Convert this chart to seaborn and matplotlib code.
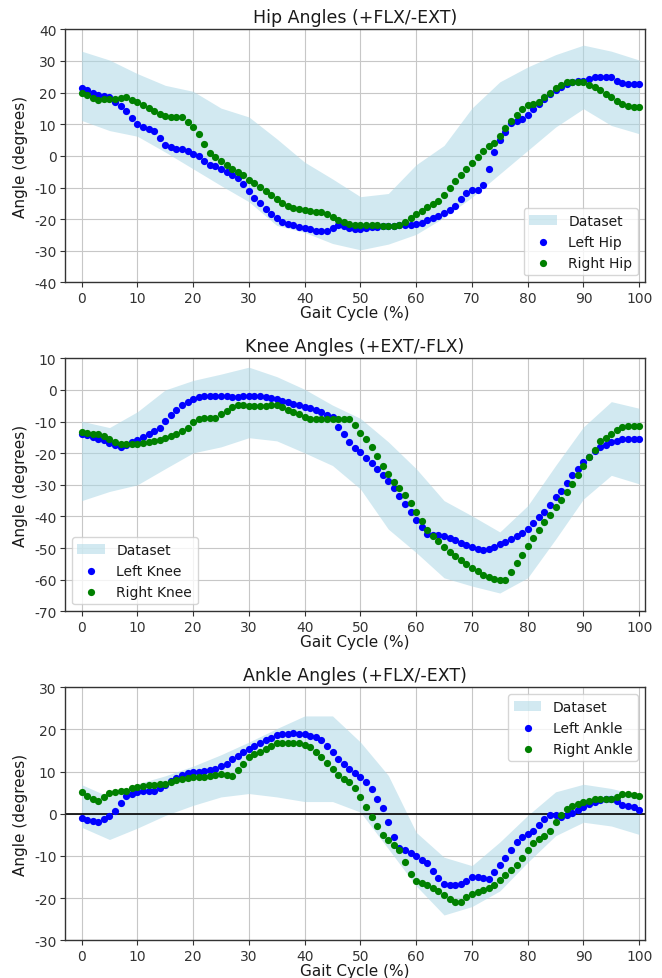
import numpy as np
import pandas as pd
import matplotlib
matplotlib.use("Agg")
import matplotlib.pyplot as plt
import seaborn as sns

# gait cycle positions
cycle = list(range(0, 101))
band_x = list(range(0, 101, 5))

# ---- Hip (+FLX/-EXT)
hip_left = [21.6, 20.8, 20.0, 19.3, 18.9, 18.7, 17.0, 15.7, 14.1, 12.1,
            10.2, 9.1, 8.6, 7.8, 5.7, 3.5, 2.8, 2.3, 2.1, 1.4,
            0.6, -0.1, -1.5, -2.8, -3.3, -4.2, -5.1, -6.0, -7.0, -8.9,
            -11.1, -13.2, -15.0, -16.9, -18.4, -19.8, -21.0, -21.4, -21.9, -22.4,
            -22.9, -23.2, -23.6, -23.8, -23.8, -22.8, -21.9, -22.1, -22.8, -23.0,
            -23.0, -22.8, -22.6, -22.4, -22.3, -22.2, -22.1, -22.0, -21.9, -21.8,
            -21.5, -21.1, -20.4, -19.8, -18.9, -18.2, -17.1, -15.8, -13.6, -11.7,
            -10.9, -10.9, -9.1, -4.1, 1.2, 4.9, 7.5, 10.3, 11.0, 11.7,
            12.8, 14.7, 16.5, 18.1, 19.7, 20.8, 21.7, 22.8, 23.4, 23.6,
            23.8, 24.4, 24.9, 24.9, 24.9, 24.9, 23.8, 22.9, 22.6, 22.6, 22.6]
hip_right = [20.0, 19.3, 18.3, 17.7, 17.9, 17.9, 18.1, 18.4, 18.5, 17.8,
             17.0, 16.0, 15.0, 14.3, 13.2, 12.6, 12.4, 12.4, 12.2, 10.8,
             9.2, 7.0, 3.9, 1.0, -0.4, -1.7, -2.8, -4.0, -5.2, -6.2,
             -7.5, -8.7, -9.8, -11.0, -12.4, -13.7, -14.8, -15.8, -16.6, -16.9,
             -17.1, -17.4, -17.6, -17.9, -18.3, -19.3, -20.3, -21.0, -21.4, -21.8,
             -21.8, -21.8, -21.8, -21.9, -22.1, -22.2, -22.2, -21.9, -20.8, -19.5,
             -18.4, -17.4, -16.1, -15.2, -14.3, -12.3, -10.3, -8.0, -5.9, -4.1,
             -2.2, -0.2, 1.4, 3.0, 4.1, 6.2, 8.8, 11.0, 12.8, 14.7,
             16.0, 16.4, 17.0, 18.5, 20.0, 21.4, 22.3, 23.4, 23.4, 23.4,
             23.2, 22.5, 21.7, 20.7, 19.6, 18.5, 17.4, 16.3, 15.7, 15.6, 15.3]
hip_band_hi = [33.1, 30.3, 26.0, 22.3, 20.4, 15.1, 12.3, 5.4, -2.0, -7.3, -12.9,
               -11.9, -2.8, 3.3, 15.1, 23.4, 28.1, 32.0, 35.0, 33.1, 30.3]
hip_band_lo = [11.2, 8.0, 6.2, 1.2, -4.1, -9.4, -14.5, -22.0, -24.2, -27.7, -29.7,
               -27.9, -24.8, -19.5, -13.1, -5.7, 1.7, 9.1, 14.9, 9.6, 7.0]

# ---- Knee (+EXT/-FLX)
knee_left = [-13.8, -14.3, -14.8, -15.4, -15.9, -16.8, -17.3, -18.0, -17.3, -16.4,
             -15.7, -14.8, -13.8, -13.0, -12.0, -9.9, -8.0, -6.2, -4.8, -3.9,
             -2.9, -2.3, -2.0, -1.9, -1.8, -1.9, -2.0, -2.1, -2.1, -2.0,
             -1.9, -1.8, -1.9, -2.2, -2.7, -3.0, -3.5, -3.9, -4.3, -4.8,
             -5.3, -5.8, -6.4, -7.1, -8.0, -8.7, -11.6, -14.0, -16.4, -18.3,
             -19.6, -21.4, -23.1, -24.9, -26.8, -28.8, -31.1, -33.4, -36.1, -38.5,
             -41.0, -43.3, -45.4, -45.9, -45.9, -46.1, -46.7, -47.4, -48.3, -49.1,
             -49.8, -50.2, -50.6, -50.4, -49.5, -48.8, -48.0, -47.0, -46.1, -45.3,
             -44.0, -42.2, -40.3, -38.5, -36.3, -33.9, -31.8, -29.4, -27.0, -24.9,
             -22.8, -21.1, -19.4, -18.0, -17.3, -16.6, -16.0, -15.6, -15.4, -15.4, -15.4]
knee_right = [-13.3, -13.6, -13.8, -14.0, -14.5, -15.4, -16.4, -17.1, -17.1, -17.1,
              -17.2, -16.9, -16.4, -16.1, -15.8, -15.2, -14.5, -13.8, -13.0, -12.0,
              -10.1, -9.2, -9.0, -9.0, -8.9, -7.7, -6.6, -5.5, -4.8, -4.8,
              -5.0, -5.1, -5.1, -5.0, -4.8, -4.8, -5.4, -6.3, -6.9, -7.7,
              -8.6, -9.3, -9.3, -9.2, -9.2, -9.1, -9.1, -9.1, -9.3, -11.1,
              -13.5, -15.6, -18.0, -21.0, -24.1, -26.7, -29.0, -31.1, -33.2, -35.7,
              -38.7, -41.4, -44.3, -46.1, -47.8, -49.8, -51.2, -52.5, -53.8, -54.9,
              -56.2, -57.4, -58.6, -59.2, -59.7, -60.1, -60.1, -57.6, -54.8, -52.2,
              -49.3, -46.7, -44.2, -41.6, -39.4, -37.1, -34.7, -32.3, -29.7, -26.8,
              -24.1, -21.3, -18.9, -16.2, -15.1, -14.0, -12.7, -11.8, -11.5, -11.3, -11.3]
knee_band_hi = [-9.9, -11.9, -6.9, 0.0, 3.0, 5.0, 7.2, 4.2, 0.2, -4.8, -9.0,
                -16.4, -24.9, -35.0, -39.8, -44.9, -36.6, -23.9, -11.7, -3.7, -5.8]
knee_band_lo = [-35.0, -32.1, -30.0, -24.9, -19.9, -18.0, -15.1, -16.1, -19.9, -23.9, -31.3,
                -44.0, -51.4, -59.4, -62.0, -64.2, -59.4, -47.2, -34.5, -27.0, -29.7]

# ---- Ankle (+FLX/-EXT)
ankle_left = [-1.0, -1.4, -1.8, -2.0, -1.3, -0.6, 0.6, 2.5, 4.2, 4.8,
              5.2, 5.5, 5.5, 5.5, 6.0, 6.9, 7.8, 8.5, 9.1, 9.6,
              9.9, 9.9, 10.2, 10.5, 10.7, 11.3, 11.9, 12.9, 13.7, 14.6,
              15.3, 16.1, 16.7, 17.5, 18.0, 18.7, 19.0, 19.0, 19.1, 19.0,
              18.9, 18.5, 18.1, 17.5, 16.0, 14.7, 13.1, 11.7, 10.7, 9.7,
              8.7, 7.5, 5.8, 3.6, 1.3, -2.0, -5.4, -8.1, -8.7, -9.4,
              -10.1, -11.0, -11.7, -13.5, -15.2, -16.7, -16.8, -16.8, -16.7, -15.9,
              -15.1, -14.9, -15.3, -15.5, -13.7, -12.1, -10.5, -8.6, -6.7, -5.6,
              -4.8, -4.0, -2.6, -1.3, -0.4, -0.4, -0.8, -0.4, 0.2, 0.9,
              1.6, 2.4, 2.9, 3.3, 3.6, 3.6, 3.0, 2.1, 1.8, 1.6, 1.0]
ankle_right = [5.2, 4.2, 3.4, 3.0, 4.0, 4.9, 5.2, 5.3, 5.5, 6.0,
               6.3, 6.7, 6.9, 6.9, 7.0, 7.1, 7.5, 7.9, 8.2, 8.5,
               8.7, 8.7, 8.8, 9.0, 9.3, 9.4, 9.3, 9.0, 10.3, 11.9,
               13.4, 14.1, 14.7, 15.3, 16.0, 16.7, 16.9, 16.9, 16.9, 16.7,
               16.4, 15.8, 14.7, 13.5, 12.1, 10.7, 9.3, 8.3, 7.5, 6.1,
               4.0, 1.6, -0.8, -2.8, -5.0, -6.2, -7.3, -8.7, -11.5, -14.3,
               -15.9, -16.4, -16.9, -17.6, -18.4, -19.2, -20.1, -20.8, -20.8, -19.8,
               -19.0, -18.5, -18.0, -17.7, -16.8, -15.7, -14.5, -13.3, -12.1, -10.6,
               -8.7, -7.0, -6.0, -5.2, -4.1, -2.0, -0.2, 1.2, 1.8, 2.4,
               2.8, 3.0, 3.6, 3.4, 3.6, 3.6, 4.0, 4.6, 4.6, 4.5, 4.2]
ankle_band_hi = [6.9, 4.0, 7.1, 9.0, 11.3, 14.0, 17.0, 20.2, 23.2, 23.2, 17.0,
                 9.1, -4.4, -10.3, -12.3, -6.7, -0.4, 5.2, 7.0, 6.0, 4.4]
ankle_band_lo = [-3.2, -6.1, -3.4, -0.4, 2.0, 4.0, 4.8, 4.0, 2.9, 2.9, 0.4,
                 -8.3, -17.1, -24.0, -22.0, -18.3, -11.5, -5.2, -2.0, -2.9, -4.9]

sns.set_style("ticks", {"axes.grid": True, "grid.color": "0.78",
                        "axes.edgecolor": "0.2", "xtick.color": "0.2",
                        "ytick.color": "0.2", "text.color": "0.1",
                        "axes.labelcolor": "0.1"})
plt.rcParams["font.family"] = ["DejaVu Sans"]
plt.rcParams["axes.unicode_minus"] = False

panels = [
    ("Hip Angles (+FLX/-EXT)", "Hip", hip_left, hip_right, hip_band_lo, hip_band_hi,
     (-40, 40), "lower right"),
    ("Knee Angles (+EXT/-FLX)", "Knee", knee_left, knee_right, knee_band_lo, knee_band_hi,
     (-70, 10), "lower left"),
    ("Ankle Angles (+FLX/-EXT)", "Ankle", ankle_left, ankle_right, ankle_band_lo, ankle_band_hi,
     (-30, 30), "upper right"),
]

fig, axes = plt.subplots(3, 1, figsize=(6.62, 9.79), dpi=100)
fig.subplots_adjust(left=0.098, right=0.974, top=0.969, bottom=0.0385, hspace=0.30)

for ax, (title, joint, left, right, lo, hi, ylim, loc) in zip(axes, panels):
    df = pd.DataFrame({"cycle": cycle, "left": left, "right": right})
    ax.fill_between(band_x, lo, hi, color="lightblue", alpha=0.55,
                    linewidth=0, label="Dataset")
    if joint == "Ankle":
        ax.axhline(0, color="black", linewidth=1.2, zorder=1.6)
    sns.scatterplot(data=df, x="cycle", y="left", ax=ax, color="blue", s=27,
                    linewidth=0, label=f"Left {joint}", zorder=3)
    sns.scatterplot(data=df, x="cycle", y="right", ax=ax, color="green", s=27,
                    linewidth=0, label=f"Right {joint}", zorder=3)
    ax.set_xlim(-3, 101)
    ax.set_ylim(*ylim)
    ax.set_xticks(range(0, 101, 10))
    ax.set_yticks(range(ylim[0], ylim[1] + 1, 10))
    ax.tick_params(labelsize=10, length=3.5, width=0.8, pad=2.5)
    ax.set_title(title, fontsize=12.5, pad=5)
    ax.set_xlabel("Gait Cycle (%)", fontsize=11, labelpad=0)
    ax.set_ylabel("Angle (degrees)", fontsize=11)
    ax.legend(loc=loc, fontsize=10, framealpha=0.8)
    for sp in ax.spines.values():
        sp.set_linewidth(1.0)

fig.savefig("out.png", dpi=100)
